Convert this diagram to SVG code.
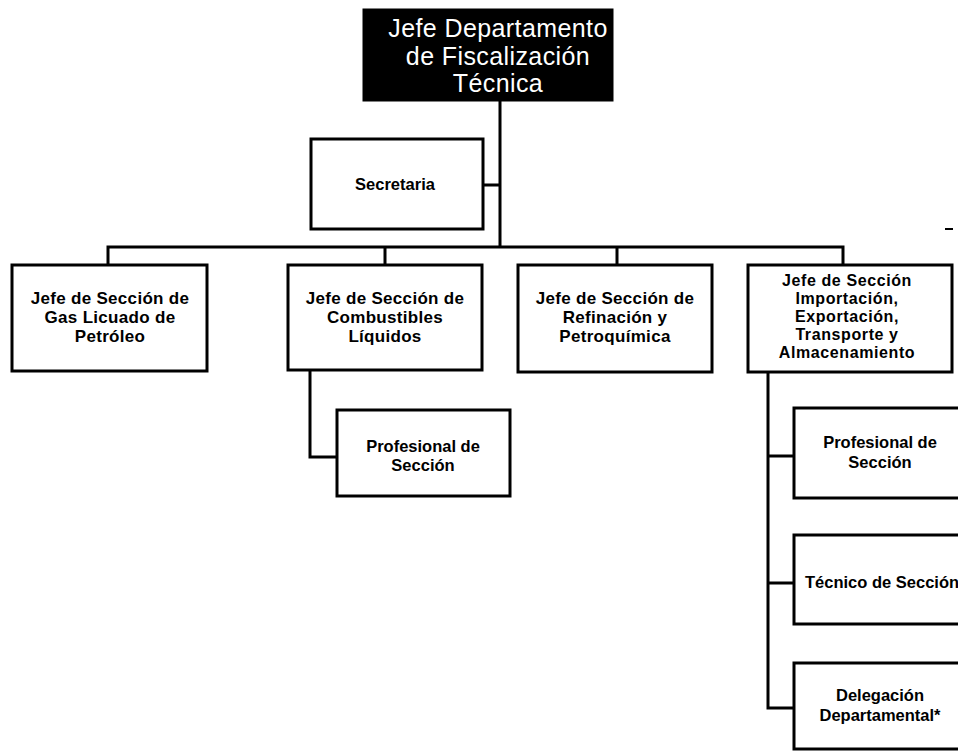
<svg xmlns="http://www.w3.org/2000/svg" width="958" height="751" viewBox="0 0 958 751">
<style>
.box{fill:#fff;stroke:#000;stroke-width:3}
.top{fill:#000;stroke:#000;stroke-width:3}
.ln{fill:none;stroke:#000;stroke-width:3;stroke-linecap:square}
.t{font-family:"Liberation Sans",Arial,sans-serif;font-weight:bold;font-size:17px;letter-spacing:0.3px;text-anchor:middle;fill:#000}
.s{font-size:16.5px;letter-spacing:0}
.m{font-size:16px;letter-spacing:0.6px}
.h{font-family:"Liberation Sans",Arial,sans-serif;font-size:25px;letter-spacing:0.4px;text-anchor:middle;fill:#fff}
</style>
<rect width="958" height="751" fill="#fff"/>
<g id="connectors">
<path class="ln" d="M500 100V247M483 185H500M108 247H843M108 247V265M385 247V265M617 247V265M843 247V265"/>
<path class="ln" d="M310 370V457H337"/>
<path class="ln" d="M768 372V708H794M768 456H794M768 583H794"/>
<path d="M945 229H953" stroke="#000" stroke-width="2"/>
</g>
<g id="jefe-departamento">
<rect class="top" x="364" y="10" width="248" height="90"/>
<text class="h" x="498" y="37">Jefe Departamento</text>
<text class="h" x="498" y="65">de Fiscalización</text>
<text class="h" x="498" y="92">Técnica</text>
</g>
<g id="secretaria">
<rect class="box" x="311" y="139" width="172" height="90"/>
<text class="t s" x="395" y="190">Secretaria</text>
</g>
<g id="gas-licuado">
<rect class="box" x="12" y="265" width="195" height="106"/>
<text class="t" x="110" y="304">Jefe de Sección de</text>
<text class="t" x="110" y="323">Gas Licuado de</text>
<text class="t" x="110" y="342">Petróleo</text>
</g>
<g id="combustibles">
<rect class="box" x="288" y="265" width="194" height="105"/>
<text class="t" x="385" y="304">Jefe de Sección de</text>
<text class="t" x="385" y="323">Combustibles</text>
<text class="t" x="385" y="342">Líquidos</text>
</g>
<g id="refinacion">
<rect class="box" x="518" y="265" width="194" height="107"/>
<text class="t" x="615" y="304">Jefe de Sección de</text>
<text class="t" x="615" y="323">Refinación y</text>
<text class="t" x="615" y="342">Petroquímica</text>
</g>
<g id="importacion">
<rect class="box" x="748" y="265" width="204" height="107"/>
<text class="t m" x="847" y="286">Jefe de Sección</text>
<text class="t m" x="847" y="304">Importación,</text>
<text class="t m" x="847" y="322">Exportación,</text>
<text class="t m" x="847" y="340">Transporte y</text>
<text class="t m" x="847" y="358">Almacenamiento</text>
</g>
<g id="profesional-combustibles">
<rect class="box" x="337" y="410" width="173" height="86"/>
<text class="t s" x="423" y="452">Profesional de</text>
<text class="t s" x="423" y="471">Sección</text>
</g>
<g id="profesional-importacion">
<rect class="box" x="794" y="408" width="180" height="90"/>
<text class="t s" x="880" y="448">Profesional de</text>
<text class="t s" x="880" y="468">Sección</text>
</g>
<g id="tecnico">
<rect class="box" x="794" y="535" width="180" height="89"/>
<text class="t s" x="805" y="588" style="text-anchor:start">Técnico de Sección</text>
</g>
<g id="delegacion">
<rect class="box" x="794" y="663" width="180" height="86"/>
<text class="t s" x="880" y="701">Delegación</text>
<text class="t s" x="880" y="721">Departamental*</text>
</g>
</svg>
